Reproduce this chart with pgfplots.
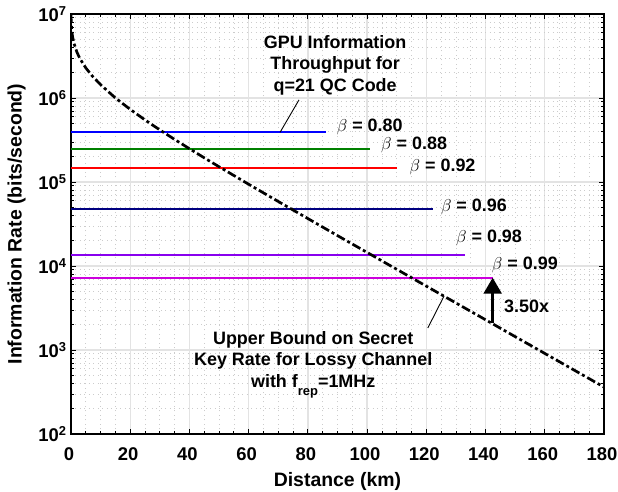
\documentclass[border=0pt]{standalone}
\usepackage{pgfplots}
\pgfplotsset{compat=1.18}
\usepackage{fontspec}
\setmainfont{Liberation Sans}
\usetikzlibrary{arrows.meta}
\definecolor{cblue}{RGB}{0,0,255}
\definecolor{cgreen}{RGB}{0,128,0}
\definecolor{cred}{RGB}{255,0,0}
\definecolor{cnavy}{RGB}{0,0,128}
\definecolor{cpurple}{RGB}{136,0,238}
\definecolor{cmagenta}{RGB}{204,0,221}
\begin{document}
\begin{tikzpicture}
\begin{axis}[
  scale only axis, width=533bp, height=420bp,
  ymode=log, xmin=0, xmax=180, ymin=1e2, ymax=1e7,
  xtick={0,20,...,180}, minor x tick num=3,
  ytick={1e2,1e3,1e4,1e5,1e6,1e7},
  yticklabels={10\textsuperscript{2},10\textsuperscript{3},10\textsuperscript{4},10\textsuperscript{5},10\textsuperscript{6},10\textsuperscript{7}},
  /pgf/number format/assume math mode=true,
  ticklabel style={font=\fontsize{18.5}{21}\selectfont\bfseries},
  xticklabel style={yshift=-10bp, xshift=-2bp, inner xsep=0pt},
  yticklabel style={xshift=-1bp},
  label style={font=\fontsize{19.5}{22}\selectfont\bfseries},
  xlabel={Distance (km)}, ylabel={Information Rate (bits/second)},
  xlabel style={at={(axis description cs:0.5,-0.114)}, anchor=center},
  ylabel style={at={(axis description cs:-0.102,0.5)}, anchor=center},
  grid=both,
  major grid style={solid, gray!22, line width=1.3bp},
  minor grid style={dash pattern=on 1bp off 3.5bp, gray!40, line width=0.7bp},
  tick align=inside, major tick length=5bp, minor tick length=3bp,
  tick style={black, line width=0.8bp},
  axis line style={black, line width=1.2bp},
]
\addplot[cblue, line width=2bp] coordinates {(0,3.9e5) (86,3.9e5)};
\addplot[cgreen, line width=2bp] coordinates {(0,2.45e5) (101.1,2.45e5)};
\addplot[cred, line width=2bp] coordinates {(0,1.48e5) (110.1,1.48e5)};
\addplot[cnavy, line width=2bp] coordinates {(0,4.8e4) (122.2,4.8e4)};
\addplot[cpurple, line width=2bp] coordinates {(0,1.35e4) (133.1,1.35e4)};
\addplot[cmagenta, line width=2bp] coordinates {(0,7.25e3) (142.4,7.25e3)};
\addplot[black, line width=2.7bp, dash pattern=on 9bp off 3bp on 3bp off 3bp] coordinates {
(0.021,1.0e7) (0.05,8.76e6) (0.1,7.77e6) (0.2,6.77e6) (0.3,6.19e6) (0.5,5.46e6)
(1,4.47e6) (2,3.51e6) (3,2.95e6) (5,2.28e6) (7,1.86e6) (10,1.44e6) (15,1.00e6)
(20,7.32e5) (25,5.48e5) (30,4.17e5) (35,3.21e5) (40,2.49e5) (45,1.94e5) (50,1.52e5)
(60,9.40e4) (70,5.86e4) (80,3.67e4) (90,2.30e4) (100,1.45e4) (110,9.13e3)
(120,5.755e3) (130,3.63e3) (140,2.29e3) (150,1.443e3) (160,910) (170,574) (180,362)};
\addplot[black, line width=0.9bp] coordinates {(77,9.5e5) (70.6,3.9e5)};
\addplot[black, line width=0.9bp] coordinates {(126,4.4e3) (120.5,1.83e3)};
\addplot[black, line width=2.5bp, -{Triangle[width=18bp,length=16bp]}] coordinates {(142.4,2070) (142.4,7250)};
\begin{scope}[every node/.style={font=\fontsize{18}{21.5}\selectfont\bfseries}]
\node[align=center, anchor=north, inner sep=0] at (axis cs:89.2,5.62e6) {GPU Information\\Throughput for\\q=21 QC Code};
\node[align=center, anchor=north, inner sep=0] at (axis cs:81.8,1.68e3) {Upper Bound on Secret\\Key Rate for Lossy Channel\\with f\raisebox{-0.85ex}{\fontsize{13}{13}\selectfont rep}=1MHz};
\node[anchor=west, inner sep=0] at (axis cs:89.7,4.52e5) {$\beta$ = 0.80};
\node[anchor=west, inner sep=0] at (axis cs:104.7,2.76e5) {$\beta$ = 0.88};
\node[anchor=west, inner sep=0] at (axis cs:114.3,1.52e5) {$\beta$ = 0.92};
\node[anchor=west, inner sep=0] at (axis cs:124.9,5.04e4) {$\beta$ = 0.96};
\node[anchor=west, inner sep=0] at (axis cs:130.0,2.15e4) {$\beta$ = 0.98};
\node[anchor=west, inner sep=0] at (axis cs:142.1,1.03e4) {$\beta$ = 0.99};
\node[anchor=west, inner sep=0] at (axis cs:146.2,3.28e3) {3.50x};
\end{scope}
\end{axis}
\pgfresetboundingbox
\path ([xshift=-71bp,yshift=-58bp]current axis.south west) rectangle ([xshift=14bp,yshift=14bp]current axis.north east);
\end{tikzpicture}
\end{document}
